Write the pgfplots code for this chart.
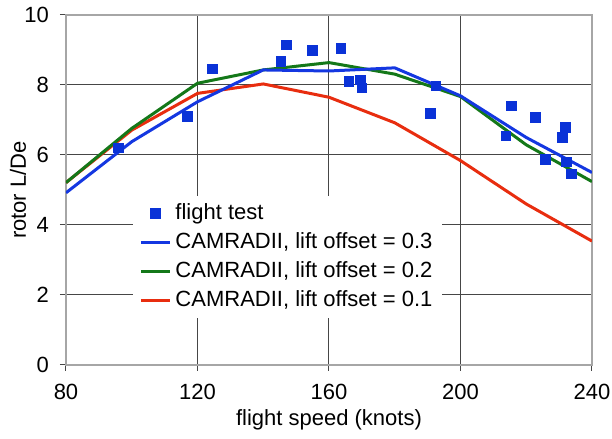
\documentclass[border=0pt]{standalone}
\usepackage{fontspec}
\setmainfont{Liberation Sans}
\usepackage{pgfplots}
\pgfplotsset{compat=1.18}
\definecolor{ptblue}{RGB}{10,50,215}
\definecolor{lnblue}{RGB}{20,55,225}
\definecolor{lngreen}{RGB}{20,120,25}
\definecolor{lnred}{RGB}{232,45,15}
\definecolor{gridc}{RGB}{70,70,70}
\begin{document}
\begin{tikzpicture}
\useasboundingbox (-33pt,-37pt) rectangle (273pt,182.5pt);
\begin{axis}[
  scale only axis, width=263pt, height=175pt,
  xmin=80, xmax=240, ymin=0, ymax=10,
  xtick={80,120,160,200,240}, ytick={0,2,4,6,8,10},
  xtick pos=bottom, ytick pos=left,
  tick align=outside, major tick length=3pt,
  tick style={gridc, line width=0.5pt},
  grid=major, major grid style={gridc, line width=0.5pt},
  axis line style={gray!70, line width=0.6pt},
  font=\fontsize{11}{13}\selectfont,
  /pgf/number format/assume math mode=true,
  xticklabel style={yshift=-3pt},
  yticklabel style={xshift=-2pt},
  xlabel={flight speed (knots)}, ylabel={rotor L/De},
  every axis x label/.style={at={([yshift=-27.5pt]axis description cs:0.5,0)}, anchor=center},
  every axis y label/.style={at={([xshift=-24pt]axis description cs:0,0.5)}, rotate=90, anchor=center},
  legend image code/.code={\draw[#1] (0pt,0pt) -- (14.5pt,0pt);},
  legend style={at={(rel axis cs:0.422,0.309)}, anchor=center, draw=none, fill=white,
    font=\fontsize{11}{13}\selectfont, row sep=1pt, cells={anchor=west}},
]
\addlegendimage{only marks, mark=square*, mark size=2.4pt, color=ptblue,
  legend image code/.code={\draw[##1] plot coordinates {(7.25pt,0pt)};}}
\addlegendentry{flight test}
\addlegendimage{lnblue, line width=1.5pt}
\addlegendentry{CAMRADII, lift offset = 0.3}
\addlegendimage{lngreen, line width=1.5pt}
\addlegendentry{CAMRADII, lift offset = 0.2}
\addlegendimage{lnred, line width=1.5pt}
\addlegendentry{CAMRADII, lift offset = 0.1}

\addplot[lnred, line width=1.5pt, forget plot] coordinates {
(80,5.21)(100,6.71)(120,7.76)(140,8.03)(160,7.65)(180,6.92)(200,5.84)(220,4.6)(240,3.54)};
\addplot[lngreen, line width=1.5pt, forget plot] coordinates {
(80,5.21)(100,6.76)(120,8.05)(140,8.43)(160,8.64)(180,8.31)(200,7.67)(220,6.29)(240,5.24)};
\addplot[lnblue, line width=1.5pt, forget plot] coordinates {
(80,4.92)(100,6.38)(120,7.52)(140,8.43)(160,8.40)(180,8.49)(200,7.69)(220,6.5)(240,5.5)};
\addplot[only marks, mark=square*, mark size=2.4pt, color=ptblue, forget plot] coordinates {
(96,6.2)(117,7.1)(124.6,8.46)(145.4,8.68)(147,9.14)(155,8.98)(163.6,9.04)(166.1,8.11)
(169.6,8.14)(170,7.92)(192.5,7.97)(190.8,7.19)(215.4,7.4)(222.8,7.08)(213.8,6.54)
(232,6.78)(231,6.5)(225.9,5.88)(232.2,5.8)(233.7,5.46)};
\end{axis}
\end{tikzpicture}
\end{document}
